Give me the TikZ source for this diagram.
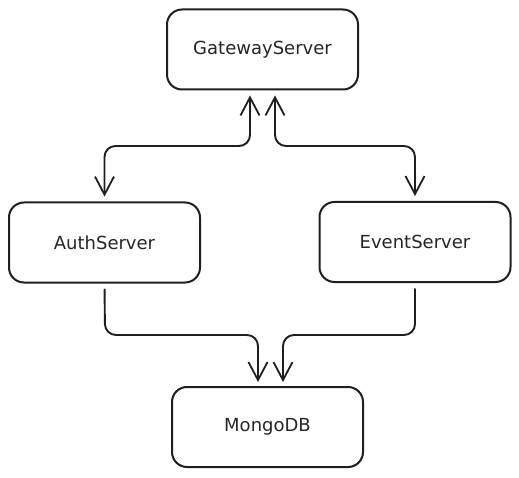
\documentclass[tikz,border=0pt]{standalone}
\usepackage{fontspec}
\setmainfont{DejaVu Sans}
\usetikzlibrary{arrows.meta}
\begin{document}
\begin{tikzpicture}[x=1pt,y=-1pt,
  box/.style={draw=black!88, line width=2pt, rounded corners=15pt, minimum width=191pt, minimum height=80pt, inner sep=0pt, text=black!85, font=\fontsize{18}{21}\selectfont},
  link/.style={draw=black!88, line width=1.9pt, rounded corners=11pt, line cap=round,
    arrows={Straight Barb[length=18pt,width=19pt,line width=1.8pt]-Straight Barb[length=18pt,width=19pt,line width=1.8pt]}},
  one/.style={draw=black!88, line width=1.9pt, rounded corners=11pt, line cap=round,
    -{Straight Barb[length=18pt,width=19pt,line width=1.8pt]}, shorten >=4pt}]
\useasboundingbox (0,0) rectangle (519,478);
\node[box] (gw) at (262.5,49.5) {GatewayServer};
\node[box] (auth) at (104.5,242.5) {AuthServer};
\node[box] (event) at (415,242) {EventServer};
\node[box] (db) at (267.5,427) {MongoDB};
\coordinate (a1) at (250,146);
\coordinate (e1) at (275,146);
\coordinate (a2) at (105,335);
\coordinate (e2) at (415,335);
\coordinate (m1) at (258,335);
\coordinate (m2) at (283,335);
\draw[link, shorten <=5pt, shorten >=5pt] (gw.south -| a1) -- (a1) -| (auth.north);
\draw[link, shorten <=5pt, shorten >=5pt] (gw.south -| e1) -- (e1) -| (event.north);
\draw[one, shorten <=6pt] (auth.south) -- (a2) -| (db.north -| m1);
\draw[one, shorten <=6pt] (event.south) -- (e2) -| (db.north -| m2);
\end{tikzpicture}
\end{document}
